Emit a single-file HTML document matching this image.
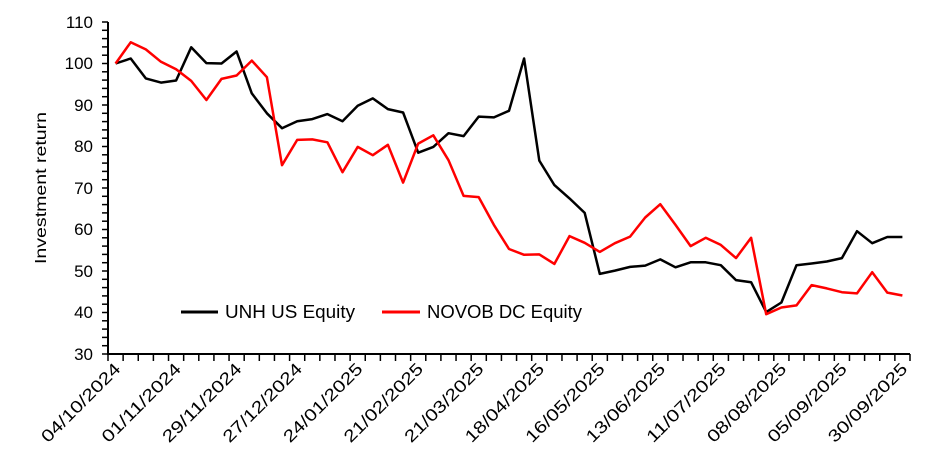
<!DOCTYPE html>
<html><head><meta charset="utf-8"><style>
html,body{margin:0;padding:0;background:#fff;}
svg{display:block;font-family:"Liberation Sans",sans-serif;}
</style></head><body>
<svg id="c" width="940" height="470" viewBox="0 0 940 470" xmlns="http://www.w3.org/2000/svg">
<g id="grid"></g>
<g font-size="17" fill="#000" text-anchor="end">
<text x="93" y="360">30</text>
<text x="93" y="318">40</text>
<text x="93" y="277">50</text>
<text x="93" y="235">60</text>
<text x="93" y="194">70</text>
<text x="93" y="152">80</text>
<text x="93" y="111">90</text>
<text x="93" y="69">100</text>
<text x="93" y="28">110</text>
</g>
<text transform="translate(46,188) rotate(-90)" text-anchor="middle" font-size="16" textLength="152" lengthAdjust="spacingAndGlyphs">Investment return</text>
<polyline id="unh" fill="none" stroke="#000" stroke-width="2.5" stroke-linejoin="round"/>
<polyline id="novo" fill="none" stroke="#f00" stroke-width="2.5" stroke-linejoin="round"/>
<line x1="181" y1="312" x2="218" y2="312" stroke="#000" stroke-width="3"/>
<text x="225" y="318" font-size="18" textLength="130" lengthAdjust="spacingAndGlyphs">UNH US Equity</text>
<line x1="382" y1="312" x2="420" y2="312" stroke="#f00" stroke-width="3"/>
<text x="427" y="318" font-size="18" textLength="155" lengthAdjust="spacingAndGlyphs">NOVOB DC Equity</text>
<g id="labels" font-size="17" text-anchor="end">
<text data-i="0">04/10/2024</text>
<text data-i="4">01/11/2024</text>
<text data-i="8">29/11/2024</text>
<text data-i="12">27/12/2024</text>
<text data-i="16">24/01/2025</text>
<text data-i="20">21/02/2025</text>
<text data-i="24">21/03/2025</text>
<text data-i="28">18/04/2025</text>
<text data-i="32">16/05/2025</text>
<text data-i="36">13/06/2025</text>
<text data-i="40">11/07/2025</text>
<text data-i="44">08/08/2025</text>
<text data-i="48">05/09/2025</text>
<text data-i="52">30/09/2025</text>
</g>
</svg>
<script>
var u=[100,101.2,96.4,95.4,95.9,103.9,100.1,100,102.9,92.8,88,84.4,86.1,86.6,87.8,86.1,89.8,91.6,89,88.2,78.5,79.9,83.2,82.5,87.2,87,88.6,101.2,76.6,70.7,67.5,64,49.3,50.1,51,51.3,52.8,50.9,52.1,52.1,51.4,47.8,47.3,40.1,42.4,51.4,51.8,52.3,53.1,59.6,56.7,58.2,58.2];
var n=[100,105.1,103.4,100.4,98.6,95.8,91.2,96.3,97.1,100.7,96.7,75.5,81.6,81.7,81,73.8,79.9,77.9,80.4,71.3,80.7,82.7,76.7,68.1,67.8,61.1,55.3,53.9,54,51.7,58.4,56.8,54.6,56.7,58.3,62.9,66.1,61.1,56,58,56.3,53.1,58,39.6,41.2,41.7,46.6,45.8,44.9,44.6,49.7,44.8,44.1];
var x0=108,x1=910,N=53,w=(x1-x0)/N;
function X(i){return x0+w*(i+0.5);}
function Y(v){return 354-(v-30)*4.15;}
document.getElementById('unh').setAttribute('points',u.map(function(v,i){return X(i).toFixed(1)+','+Y(v).toFixed(1)}).join(' '));
document.getElementById('novo').setAttribute('points',n.map(function(v,i){return X(i).toFixed(1)+','+Y(v).toFixed(1)}).join(' '));
var g='';
g+='<line x1="108" y1="22" x2="108" y2="354" stroke="#000" stroke-width="2"/>';
g+='<line x1="107" y1="354" x2="'+x1+'" y2="354" stroke="#000" stroke-width="2"/>';
for(var v=30;v<=110;v+=2){var yy=Y(v);g+='<line x1="102" y1="'+yy+'" x2="108" y2="'+yy+'" stroke="#000" stroke-width="1.5"/>';}
for(var i=0;i<=N;i++){var xx=x0+w*i;g+='<line x1="'+xx+'" y1="354" x2="'+xx+'" y2="361" stroke="#000" stroke-width="1.5"/>';}
document.getElementById('grid').innerHTML=g;
var ls=document.querySelectorAll('#labels text');
for(var k=0;k<ls.length;k++){var i=+ls[k].getAttribute('data-i');var px=X(i)+6,py=370;ls[k].setAttribute('textLength','104');ls[k].setAttribute('lengthAdjust','spacingAndGlyphs');ls[k].setAttribute('transform','translate('+px+','+py+') rotate(-45)');}
</script>
</body></html>
